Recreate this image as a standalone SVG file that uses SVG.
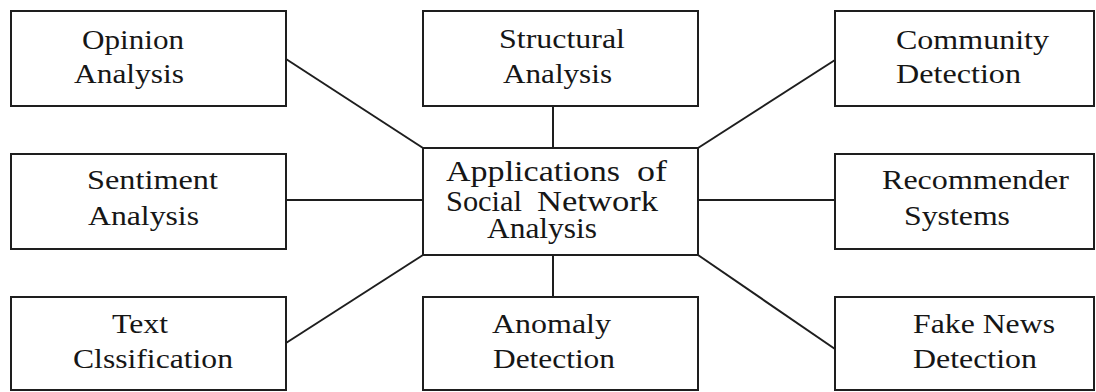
<svg xmlns="http://www.w3.org/2000/svg" width="1096" height="392" viewBox="0 0 1096 392">
  <style>
    .box { fill: #ffffff; stroke: #1e1e1e; stroke-width: 2; }
    .edge { stroke: #1e1e1e; stroke-width: 2; fill: none; }
    .lbl { font-family: "Liberation Serif", "Times New Roman", serif; font-size: 28px; fill: #161616; }
    .hub { font-size: 29px; }
  </style>
  <rect width="1096" height="392" fill="#ffffff"/>

  <!-- connectors from the hub to each application -->
  <g id="connectors">
    <line class="edge" x1="286" y1="59" x2="423" y2="148"/>
    <line class="edge" x1="553" y1="106" x2="553" y2="148"/>
    <line class="edge" x1="835" y1="60" x2="698" y2="148"/>
    <line class="edge" x1="286" y1="200" x2="423" y2="200"/>
    <line class="edge" x1="698" y1="200" x2="835" y2="200"/>
    <line class="edge" x1="286" y1="343" x2="423" y2="255"/>
    <line class="edge" x1="553" y1="255" x2="553" y2="297"/>
    <line class="edge" x1="698" y1="255" x2="835" y2="349"/>
  </g>

  <g id="opinion">
    <rect class="box" x="11" y="11" width="275" height="95"/>
    <text class="lbl" x="82" y="49" textLength="102" lengthAdjust="spacingAndGlyphs">Opinion</text>
    <text class="lbl" x="74" y="83" textLength="110" lengthAdjust="spacingAndGlyphs">Analysis</text>
  </g>

  <g id="structural">
    <rect class="box" x="423" y="11" width="275" height="95"/>
    <text class="lbl" x="499" y="48" textLength="126" lengthAdjust="spacingAndGlyphs">Structural</text>
    <text class="lbl" x="503" y="83" textLength="109" lengthAdjust="spacingAndGlyphs">Analysis</text>
  </g>

  <g id="community">
    <rect class="box" x="835" y="11" width="259" height="95"/>
    <text class="lbl" x="896" y="49" textLength="153" lengthAdjust="spacingAndGlyphs">Community</text>
    <text class="lbl" x="896" y="83" textLength="125" lengthAdjust="spacingAndGlyphs">Detection</text>
  </g>

  <g id="sentiment">
    <rect class="box" x="11" y="154" width="275" height="95"/>
    <text class="lbl" x="87" y="189" textLength="131" lengthAdjust="spacingAndGlyphs">Sentiment</text>
    <text class="lbl" x="88" y="225" textLength="111" lengthAdjust="spacingAndGlyphs">Analysis</text>
  </g>

  <g id="hub">
    <rect class="box" x="423" y="148" width="275" height="107"/>
    <text class="lbl hub" x="446" y="181" textLength="174" lengthAdjust="spacingAndGlyphs">Applications</text>
    <text class="lbl hub" x="637" y="181" textLength="30" lengthAdjust="spacingAndGlyphs">of</text>
    <text class="lbl hub" x="446" y="211" textLength="76" lengthAdjust="spacingAndGlyphs">Social</text>
    <text class="lbl hub" x="537" y="211" textLength="121" lengthAdjust="spacingAndGlyphs">Network</text>
    <text class="lbl hub" x="487" y="238" textLength="110" lengthAdjust="spacingAndGlyphs">Analysis</text>
  </g>

  <g id="recommender">
    <rect class="box" x="835" y="154" width="259" height="95"/>
    <text class="lbl" x="882" y="189" textLength="187" lengthAdjust="spacingAndGlyphs">Recommender</text>
    <text class="lbl" x="904" y="225" textLength="106" lengthAdjust="spacingAndGlyphs">Systems</text>
  </g>

  <g id="text-classification">
    <rect class="box" x="11" y="297" width="275" height="93"/>
    <text class="lbl" x="112" y="333" textLength="56" lengthAdjust="spacingAndGlyphs">Text</text>
    <text class="lbl" x="73" y="368" textLength="160" lengthAdjust="spacingAndGlyphs">Clssification</text>
  </g>

  <g id="anomaly">
    <rect class="box" x="423" y="297" width="275" height="93"/>
    <text class="lbl" x="492" y="333" textLength="119" lengthAdjust="spacingAndGlyphs">Anomaly</text>
    <text class="lbl" x="493" y="368" textLength="122" lengthAdjust="spacingAndGlyphs">Detection</text>
  </g>

  <g id="fake-news">
    <rect class="box" x="835" y="297" width="259" height="93"/>
    <text class="lbl" x="913" y="333" textLength="142" lengthAdjust="spacingAndGlyphs">Fake News</text>
    <text class="lbl" x="913" y="368" textLength="124" lengthAdjust="spacingAndGlyphs">Detection</text>
  </g>
</svg>
